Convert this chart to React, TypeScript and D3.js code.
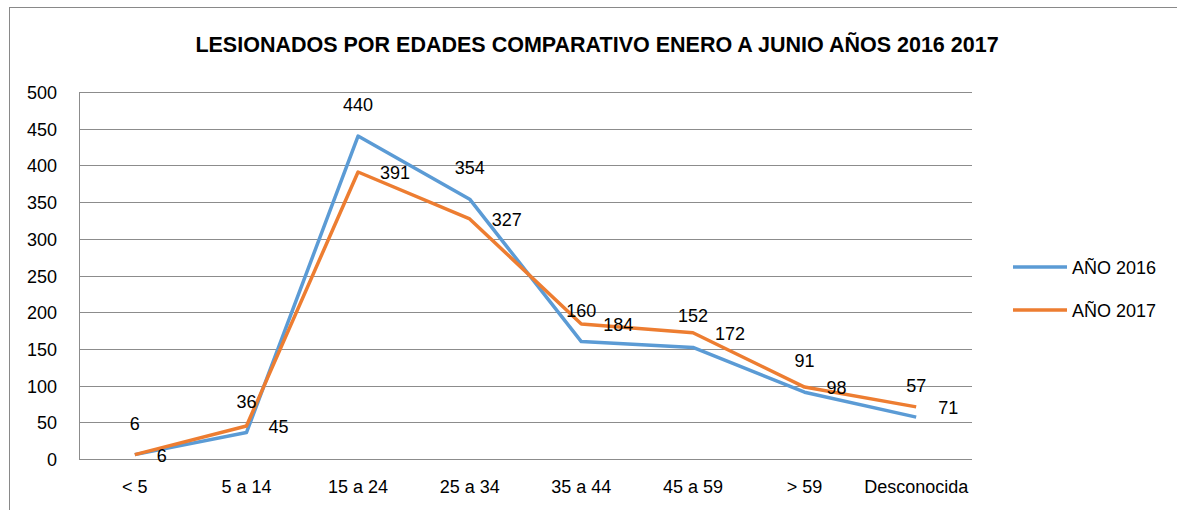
import React, { useRef, useEffect } from 'react';
import * as d3 from 'd3';

const categories = ['< 5', '5 a 14', '15 a 24', '25 a 34', '35 a 44', '45 a 59', '> 59', 'Desconocida'];
const values2016 = [6, 36, 440, 354, 160, 152, 91, 57];
const values2017 = [6, 45, 391, 327, 184, 172, 98, 71];
const yTicks = [0, 50, 100, 150, 200, 250, 300, 350, 400, 450, 500];
const seriesNames = ['AÑO 2016', 'AÑO 2017'];

const title = 'LESIONADOS POR EDADES COMPARATIVO ENERO A JUNIO AÑOS 2016 2017';

const App = () => {
  const ref = useRef<SVGSVGElement>(null);
  const width = 1177;
  const height = 510;
  const plot = { left: 79, right: 972, top: 92, bottom: 459 };
  const font = '"Liberation Sans", Arial, sans-serif';

  useEffect(() => {
    const svg = d3.select(ref.current);
    svg.selectAll('*').remove();

    // chart border
    svg
      .append('rect')
      .attr('x', 9.5)
      .attr('y', 7.5)
      .attr('width', width)
      .attr('height', height)
      .attr('fill', 'none')
      .attr('stroke', '#898989');

    const x = d3.scaleBand().domain(categories).range([plot.left, plot.right]);
    const y = d3.scaleLinear().domain([0, 500]).range([plot.bottom, plot.top]);
    const cx = (c: string) => (x(c) as number) + x.bandwidth() / 2;

    svg
      .append('text')
      .attr('x', 597)
      .attr('y', 52)
      .attr('text-anchor', 'middle')
      .style('font-family', font)
      .style('font-weight', 'bold')
      .style('font-size', '21.5px')
      .text(title);

    // gridlines
    svg
      .append('g')
      .selectAll('line')
      .data(yTicks)
      .enter()
      .append('line')
      .attr('x1', plot.left)
      .attr('x2', plot.right)
      .attr('y1', d => Math.round(y(d)) + 0.5)
      .attr('y2', d => Math.round(y(d)) + 0.5)
      .attr('stroke', '#8c8c8c')
      .attr('stroke-width', 1);

    // left axis line
    svg
      .append('line')
      .attr('x1', plot.left + 0.5)
      .attr('x2', plot.left + 0.5)
      .attr('y1', plot.top)
      .attr('y2', plot.bottom + 0.5)
      .attr('stroke', '#8c8c8c');

    svg
      .append('g')
      .selectAll('text')
      .data(yTicks)
      .enter()
      .append('text')
      .attr('x', 57)
      .attr('y', d => y(d) + 7)
      .attr('text-anchor', 'end')
      .style('font-family', font)
      .style('font-size', '18px')
      .text(d => d);

    svg
      .append('g')
      .selectAll('text')
      .data(categories)
      .enter()
      .append('text')
      .attr('x', d => cx(d))
      .attr('y', 493)
      .attr('text-anchor', 'middle')
      .style('font-family', font)
      .style('font-size', '18px')
      .text(d => d);

    const series = [
      { name: seriesNames[0], values: values2016, color: '#5B9BD5' },
      { name: seriesNames[1], values: values2017, color: '#ED7D31' },
    ];

    const line = d3
      .line<number>()
      .x((d, i) => cx(categories[i]))
      .y(d => y(d));

    series.forEach(s => {
      svg
        .append('path')
        .attr('d', line(s.values))
        .attr('fill', 'none')
        .attr('stroke', s.color)
        .attr('stroke-width', 3.5)
        .attr('stroke-linejoin', 'round');
    });

    // labels 2016: above the point
    svg
      .append('g')
      .selectAll('text')
      .data(values2016)
      .enter()
      .append('text')
      .attr('x', (d, i) => cx(categories[i]))
      .attr('y', d => y(d) - 25)
      .attr('text-anchor', 'middle')
      .style('font-family', font)
      .style('font-size', '18px')
      .text(d => d);

    // labels 2017: right of the point
    svg
      .append('g')
      .selectAll('text')
      .data(values2017)
      .enter()
      .append('text')
      .attr('x', (d, i) => cx(categories[i]) + 22)
      .attr('y', d => y(d) + 7)
      .style('font-family', font)
      .style('font-size', '18px')
      .text(d => d);

    // legend
    const legend = svg
      .append('g')
      .selectAll('g')
      .data(series)
      .enter()
      .append('g')
      .attr('transform', (d, i) => 'translate(1013,' + (267 + i * 43) + ')');

    legend
      .append('line')
      .attr('x1', 0)
      .attr('x2', 54)
      .attr('stroke', d => d.color)
      .attr('stroke-width', 3.5);

    legend
      .append('text')
      .attr('x', 59)
      .attr('y', 7)
      .style('font-family', font)
      .style('font-size', '18px')
      .text(d => d.name);
  }, []);

  return (
    <svg
      ref={ref}
      width={width}
      height={height}
      style={{ position: 'absolute', left: 0, top: 0, background: '#fff' }}
    />
  );
};

export default App;
